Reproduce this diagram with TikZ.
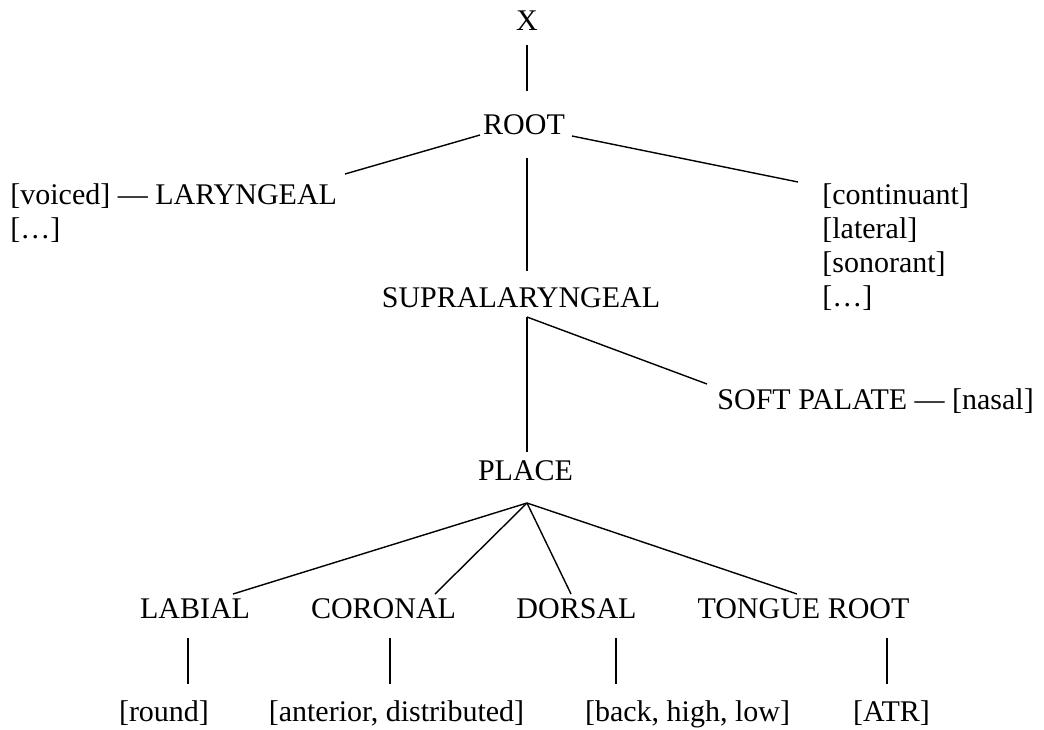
\documentclass[tikz,border=0pt]{standalone}
\usepackage{fontspec}
\setmainfont{Liberation Serif}
\begin{document}
\begin{tikzpicture}[x=0.5pt,y=-0.5pt,
  lbl/.style={inner sep=0pt, font=\fontsize{15}{17}\selectfont},
  edge/.style={line width=0.7pt}]
\useasboundingbox (0,0) rectangle (1044,729);
% nodes
\node[lbl,anchor=base] (x) at (527,30) {X};
\node[lbl,anchor=base] (root) at (524,134) {ROOT};
\node[lbl,anchor=base west] (lar) at (10,204) {[voiced] — LARYNGEAL};
\node[lbl,anchor=base west] (ldots) at (10,238) {[…]};
\node[lbl,anchor=base west] (cont) at (822,204) {[continuant]};
\node[lbl,anchor=base west] (lat) at (822,238) {[lateral]};
\node[lbl,anchor=base west] (son) at (822,272) {[sonorant]};
\node[lbl,anchor=base west] (rdots) at (822,306) {[…]};
\node[lbl,anchor=base] (supra) at (521,307) {SUPRALARYNGEAL};
\node[lbl,anchor=base west] (soft) at (717,409) {SOFT PALATE — [nasal]};
\node[lbl,anchor=base] (place) at (525.5,480) {PLACE};
\node[lbl,anchor=base] (labial) at (195,618) {LABIAL};
\node[lbl,anchor=base] (coronal) at (383.5,618) {CORONAL};
\node[lbl,anchor=base] (dorsal) at (576.5,618) {DORSAL};
\node[lbl,anchor=base] (tr) at (803.5,618) {TONGUE ROOT};
\node[lbl,anchor=base] (round) at (164,721.5) {[round]};
\node[lbl,anchor=base] (ant) at (396.5,721.5) {[anterior, distributed]};
\node[lbl,anchor=base] (back) at (687.5,721.5) {[back, high, low]};
\node[lbl,anchor=base] (atr) at (891.5,721.5) {[ATR]};
% connectors
\draw[edge] ([shift={(0,15)}]x.base) -- ([shift={(3,-43)}]root.base);
\draw[edge] ([shift={(-44,1)}]root.base) -- ([shift={(335,-30)}]lar.base west);
\draw[edge] ([shift={(48,2)}]root.base) -- ([shift={(-24,-22)}]cont.base west);
\draw[edge] ([shift={(3,24)}]root.base) -- ([shift={(6,-36)}]supra.base);
\draw[edge] ([shift={(6,10)}]supra.base) -- ([shift={(1.5,-28)}]place.base);
\draw[edge] ([shift={(6,10)}]supra.base) -- ([shift={(-10,-25)}]soft.base west);
\draw[edge] ([shift={(1.5,23)}]place.base) -- ([shift={(38,-24)}]labial.base);
\draw[edge] ([shift={(1.5,23)}]place.base) -- ([shift={(51.5,-24)}]coronal.base);
\draw[edge] ([shift={(1.5,23)}]place.base) -- ([shift={(-5.5,-24)}]dorsal.base);
\draw[edge] ([shift={(1.5,23)}]place.base) -- ([shift={(-6.5,-24)}]tr.base);
\draw[edge] ([shift={(-7,20)}]labial.base) -- ([shift={(24,-37.5)}]round.base);
\draw[edge] ([shift={(6.5,20)}]coronal.base) -- ([shift={(-6.5,-37.5)}]ant.base);
\draw[edge] ([shift={(39.5,20)}]dorsal.base) -- ([shift={(-71.5,-37.5)}]back.base);
\draw[edge] ([shift={(83.5,20)}]tr.base) -- ([shift={(-4.5,-37.5)}]atr.base);
\end{tikzpicture}
\end{document}
